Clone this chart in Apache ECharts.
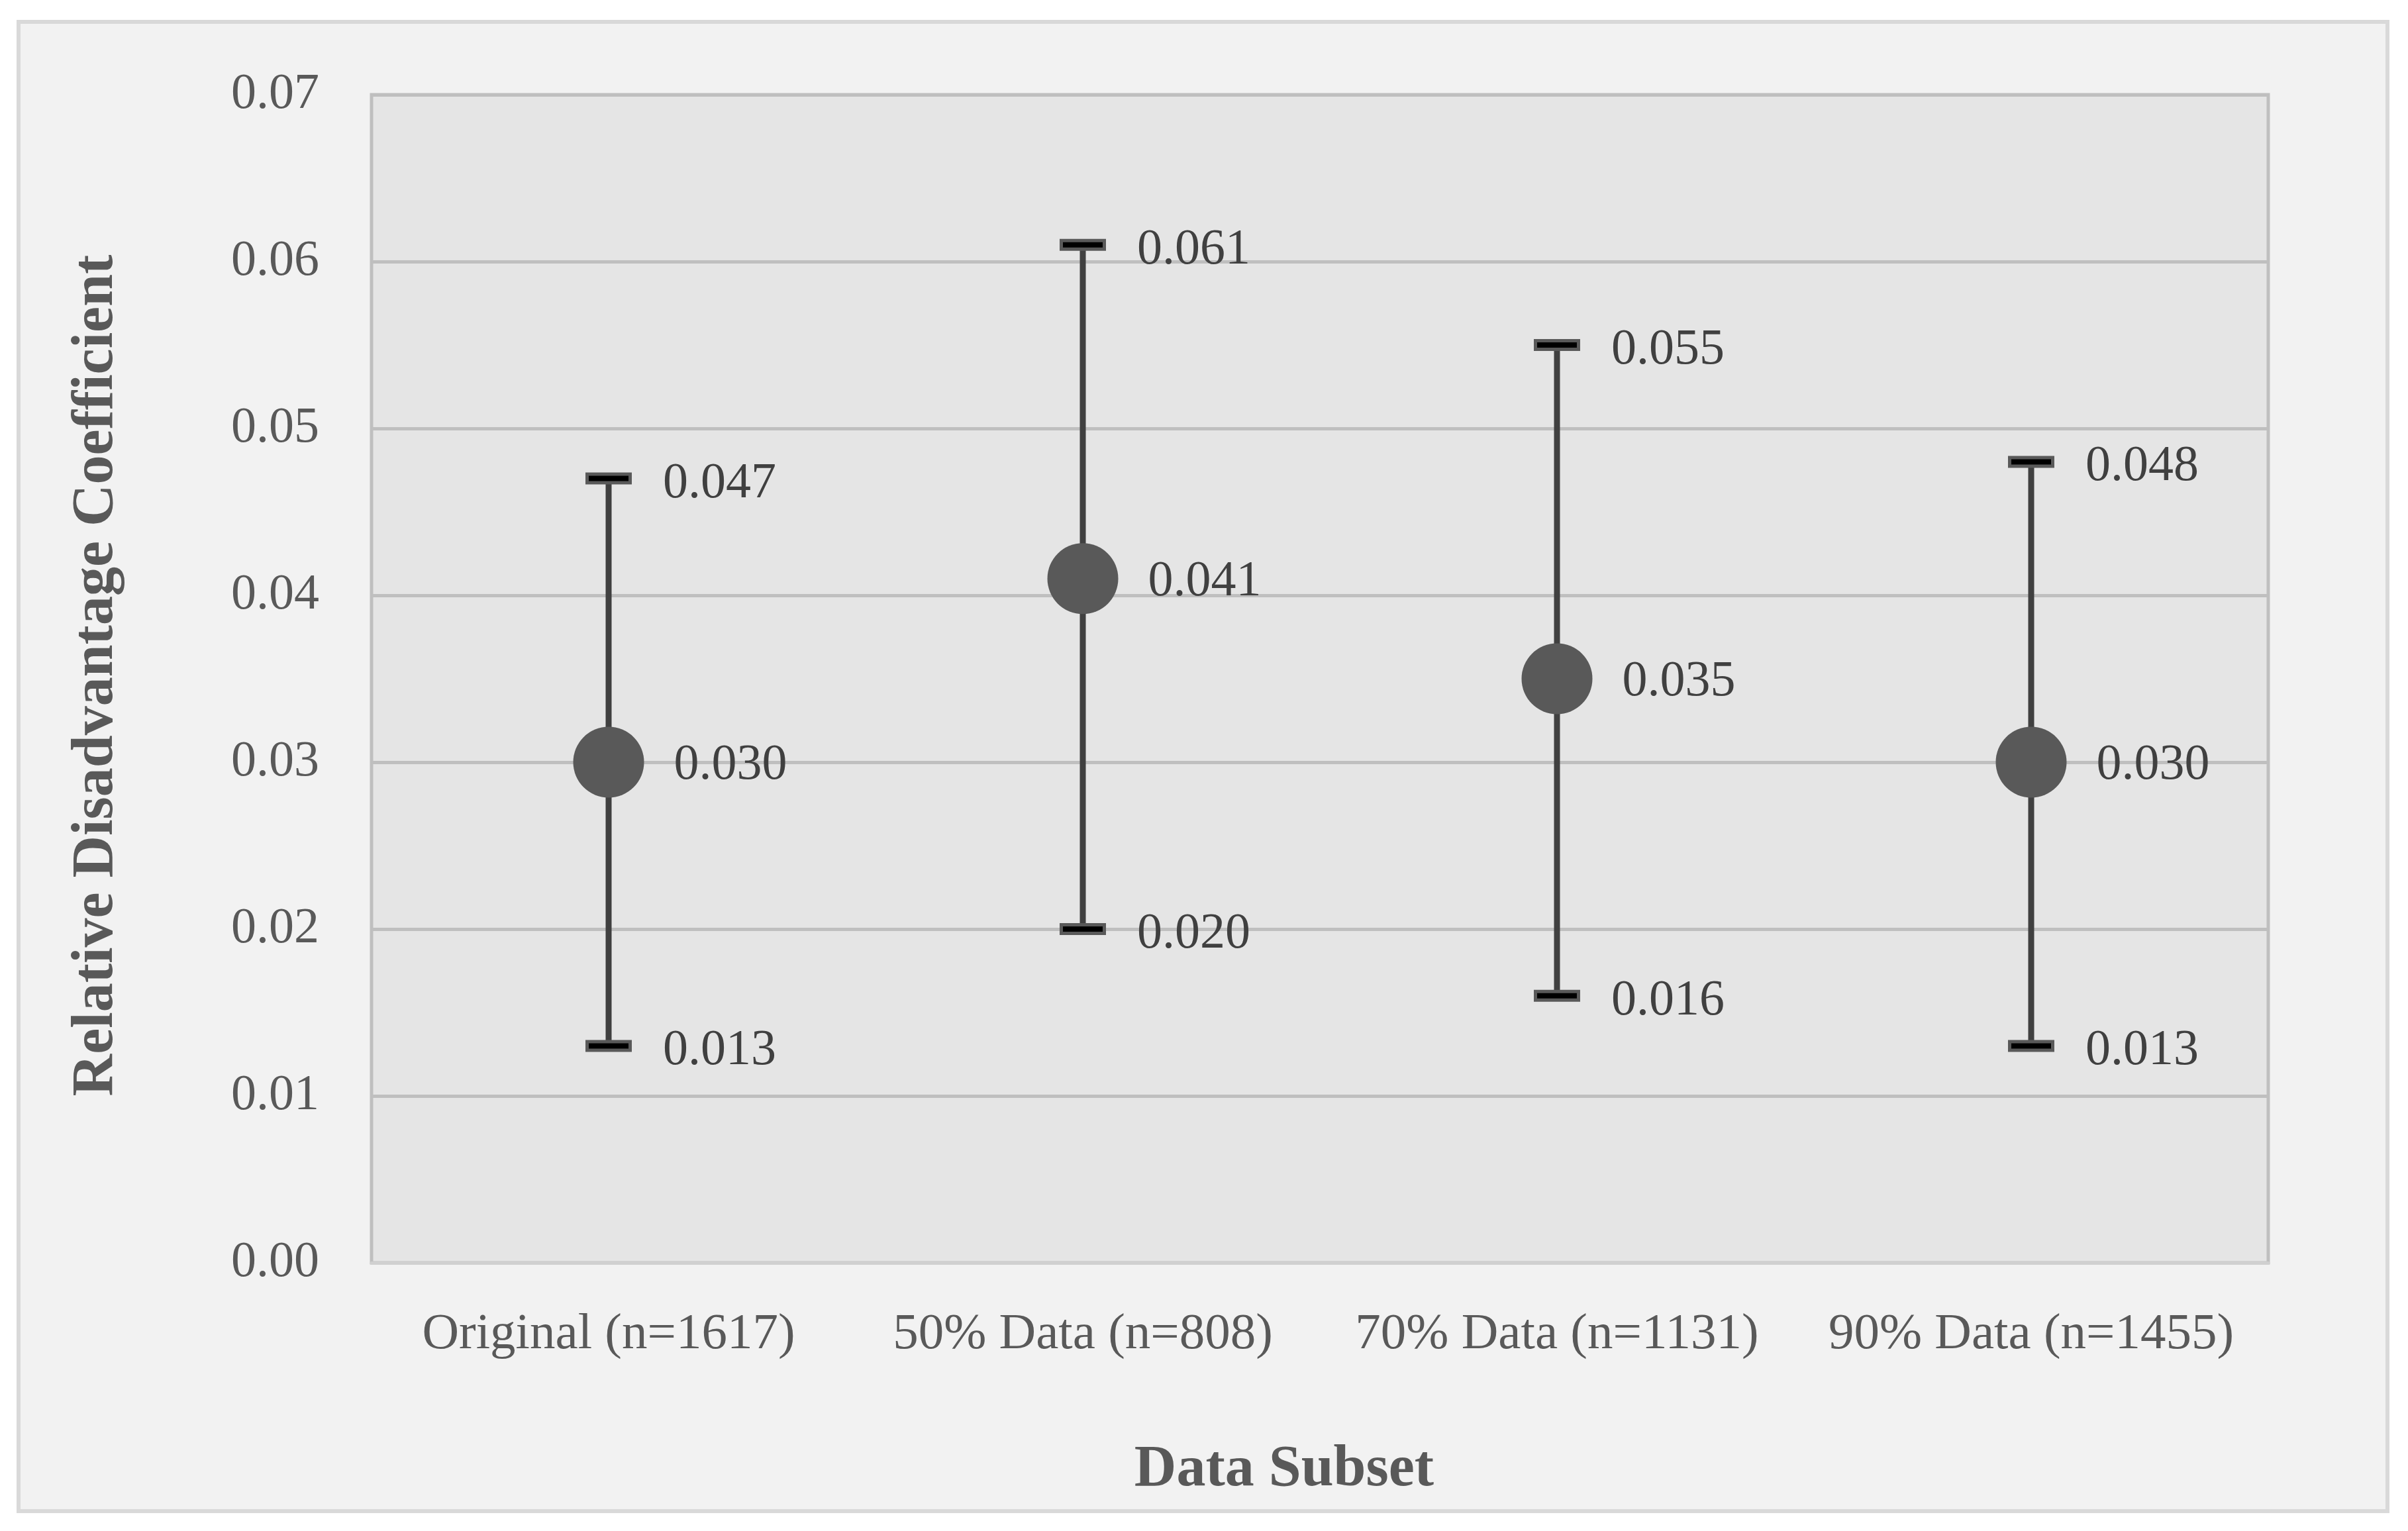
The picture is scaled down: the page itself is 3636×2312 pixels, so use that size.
<!DOCTYPE html>
<html>
<head>
<meta charset="utf-8">
<script src="https://cdn.jsdelivr.net/npm/echarts@6/dist/echarts.min.js"></script>
<style>
html,body{margin:0;padding:0;background:#ffffff;}
#chart{width:3636px;height:2312px;}
</style>
</head>
<body>
<div id="chart"></div>
<script>
const categories = ['Original (n=1617)', '50% Data (n=808)', '70% Data (n=1131)', '90% Data (n=1455)'];
const meanValues = [0.030, 0.041, 0.035, 0.030];
const lowerValues = [0.013, 0.020, 0.016, 0.013];
const upperValues = [0.047, 0.061, 0.055, 0.048];
const yTicks = { min: 0, max: 0.07, interval: 0.01 };

const FONT = '"Liberation Serif", "DejaVu Serif", serif';

const chart = echarts.init(document.getElementById('chart'), null, { renderer: 'canvas' });

const errorData = categories.map((c, i) => [i, lowerValues[i], upperValues[i]]);

const option = {
  backgroundColor: 'transparent',
  animation: false,
  graphic: [
    {
      type: 'rect', z: -10, silent: true,
      shape: { x: 28, y: 33, width: 3577, height: 2249 },
      style: { fill: '#f2f2f2', stroke: '#d9d9d9', lineWidth: 6 }
    },
    {
      type: 'text', z: 10,
      style: {
        text: 'Data Subset', x: 1939, y: 2220,
        align: 'center', verticalAlign: 'middle',
        font: 'bold 88px ' + FONT, fill: '#595959'
      }
    },
    {
      type: 'text', z: 10, rotation: Math.PI / 2, x: 146, y: 1020,
      style: {
        text: 'Relative Disadvantage Coefficient', x: 0, y: 0,
        align: 'center', verticalAlign: 'middle',
        font: 'bold 88px ' + FONT, fill: '#595959'
      }
    }
  ],
  grid: {
    left: 561, top: 143, width: 2864, height: 1764,
    show: true, backgroundColor: '#e5e5e5', borderColor: '#bfbfbf', borderWidth: 5
  },
  xAxis: {
    type: 'category',
    data: categories,
    axisLine: { show: true, lineStyle: { color: '#d0d0d0', width: 5 } },
    axisTick: { show: false },
    axisLabel: { interval: 0, color: '#595959', fontFamily: FONT, fontSize: 77, margin: 70 },
    splitLine: { show: false }
  },
  yAxis: {
    type: 'value',
    min: yTicks.min, max: yTicks.max, interval: yTicks.interval,
    axisLine: { show: false },
    axisTick: { show: false },
    axisLabel: {
      color: '#595959', fontFamily: FONT, fontSize: 76, margin: 79,
      formatter: v => v.toFixed(2)
    },
    splitLine: { show: true, lineStyle: { color: '#bfbfbf', width: 5 } }
  },
  series: [
    {
      type: 'custom',
      data: errorData,
      z: 2,
      renderItem: function (params, api) {
        const i = api.value(0);
        const lo = api.value(1);
        const hi = api.value(2);
        const pLo = api.coord([i, lo]);
        const pHi = api.coord([i, hi]);
        const capW = 65, capH = 13;
        const txtStyle = (t, p) => ({
          type: 'text',
          style: {
            text: t, x: p[0] + 82, y: p[1] + 8,
            align: 'left', verticalAlign: 'middle',
            font: '76px ' + FONT, fill: '#404040'
          }
        });
        return {
          type: 'group',
          children: [
            { type: 'line', shape: { x1: pLo[0], y1: pLo[1], x2: pHi[0], y2: pHi[1] },
              style: { stroke: '#404040', lineWidth: 9 } },
            { type: 'rect', shape: { x: pHi[0] - capW / 2, y: pHi[1] - capH / 2, width: capW, height: capH },
              style: { fill: '#000000', stroke: '#595959', lineWidth: 5 } },
            { type: 'rect', shape: { x: pLo[0] - capW / 2, y: pLo[1] - capH / 2, width: capW, height: capH },
              style: { fill: '#000000', stroke: '#595959', lineWidth: 5 } },
            txtStyle(hi.toFixed(3), pHi),
            txtStyle(lo.toFixed(3), pLo)
          ]
        };
      }
    },
    {
      type: 'scatter',
      data: meanValues,
      z: 3,
      symbol: 'circle',
      symbolSize: 107,
      itemStyle: { color: '#595959', opacity: 1 },
      label: {
        show: true, position: 'right', distance: 45, offset: [0, 5],
        color: '#404040', fontFamily: FONT, fontSize: 76,
        formatter: p => p.value.toFixed(3)
      }
    }
  ]
};

chart.setOption(option);
</script>
</body>
</html>
